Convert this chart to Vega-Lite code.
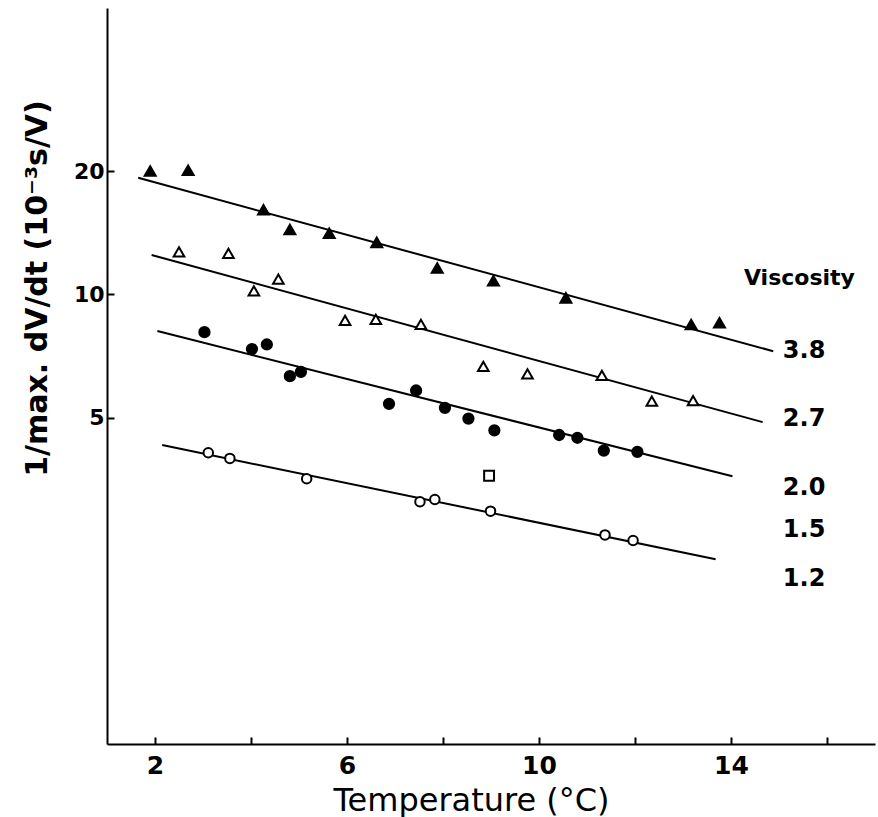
{
  "$schema": "https://vega.github.io/schema/vega-lite/v6.json",
  "width": 768,
  "height": 736,
  "autosize": {"type": "none"},
  "padding": {"left": 107, "top": 8, "right": 3, "bottom": 73},
  "background": "white",
  "config": {
    "view": {"stroke": null},
    "font": "DejaVu Sans",
    "axis": {
      "grid": false,
      "domainColor": "black",
      "domainWidth": 2,
      "tickColor": "black",
      "tickWidth": 2,
      "tickSize": -7,
      "labelColor": "black",
      "titleColor": "black",
      "labelFont": "DejaVu Sans",
      "titleFont": "DejaVu Sans"
    }
  },
  "datasets": {
    "points": [
      {"series": "3.8", "T": 1.9, "v": 20.0},
      {"series": "3.8", "T": 2.69, "v": 20.1},
      {"series": "3.8", "T": 4.26, "v": 16.1},
      {"series": "3.8", "T": 4.81, "v": 14.4},
      {"series": "3.8", "T": 5.63, "v": 14.1},
      {"series": "3.8", "T": 6.62, "v": 13.4},
      {"series": "3.8", "T": 7.88, "v": 11.6},
      {"series": "3.8", "T": 9.05, "v": 10.8},
      {"series": "3.8", "T": 10.56, "v": 9.81},
      {"series": "3.8", "T": 13.17, "v": 8.45},
      {"series": "3.8", "T": 13.76, "v": 8.53},
      {"series": "2.7", "T": 2.5, "v": 12.7},
      {"series": "2.7", "T": 3.53, "v": 12.6},
      {"series": "2.7", "T": 4.06, "v": 10.2},
      {"series": "2.7", "T": 4.57, "v": 10.9},
      {"series": "2.7", "T": 5.96, "v": 8.64},
      {"series": "2.7", "T": 6.6, "v": 8.69},
      {"series": "2.7", "T": 7.54, "v": 8.45},
      {"series": "2.7", "T": 8.84, "v": 6.68},
      {"series": "2.7", "T": 9.76, "v": 6.4},
      {"series": "2.7", "T": 11.31, "v": 6.35},
      {"series": "2.7", "T": 12.35, "v": 5.49},
      {"series": "2.7", "T": 13.21, "v": 5.51},
      {"series": "2.0", "T": 3.03, "v": 8.09},
      {"series": "2.0", "T": 4.02, "v": 7.36},
      {"series": "2.0", "T": 4.33, "v": 7.55},
      {"series": "2.0", "T": 4.81, "v": 6.32},
      {"series": "2.0", "T": 5.04, "v": 6.47},
      {"series": "2.0", "T": 6.875, "v": 5.41},
      {"series": "2.0", "T": 7.44, "v": 5.83},
      {"series": "2.0", "T": 8.04, "v": 5.29},
      {"series": "2.0", "T": 8.53, "v": 4.98},
      {"series": "2.0", "T": 9.07, "v": 4.66},
      {"series": "2.0", "T": 10.42, "v": 4.54},
      {"series": "2.0", "T": 10.8, "v": 4.47},
      {"series": "2.0", "T": 11.35, "v": 4.16},
      {"series": "2.0", "T": 12.05, "v": 4.13},
      {"series": "1.5", "T": 8.96, "v": 3.61},
      {"series": "1.2", "T": 3.11, "v": 4.11},
      {"series": "1.2", "T": 3.56, "v": 3.98},
      {"series": "1.2", "T": 5.16, "v": 3.55},
      {"series": "1.2", "T": 7.52, "v": 3.12},
      {"series": "1.2", "T": 7.83, "v": 3.16},
      {"series": "1.2", "T": 8.99, "v": 2.96},
      {"series": "1.2", "T": 11.375, "v": 2.59},
      {"series": "1.2", "T": 11.96, "v": 2.51}
    ],
    "fits": [
      {"series": "3.8", "T": 1.65, "v": 19.26},
      {"series": "3.8", "T": 14.88, "v": 7.27},
      {"series": "2.7", "T": 1.93, "v": 12.48},
      {"series": "2.7", "T": 14.66, "v": 4.88},
      {"series": "2.0", "T": 2.05, "v": 8.14},
      {"series": "2.0", "T": 14.03, "v": 3.6},
      {"series": "1.2", "T": 2.15, "v": 4.29},
      {"series": "1.2", "T": 13.68, "v": 2.26}
    ],
    "head": [
      {"label": "Viscosity", "T": 14.27, "v": 10.98}
    ],
    "labels": [
      {"label": "3.8", "T": 15.08, "v": 7.27},
      {"label": "2.7", "T": 15.08, "v": 4.96},
      {"label": "2.0", "T": 15.08, "v": 3.37},
      {"label": "1.5", "T": 15.08, "v": 2.66},
      {"label": "1.2", "T": 15.08, "v": 2.02}
    ]
  },
  "encoding": {
    "x": {
      "field": "T",
      "type": "quantitative",
      "scale": {"domain": [1, 17], "nice": false, "zero": false},
      "axis": {
        "values": [2, 4, 6, 8, 10, 12, 14, 16],
        "labelExpr": "datum.value % 4 == 2 ? datum.label : ''",
        "title": "Temperature (°C)",
        "labelFontSize": 25,
        "labelFontWeight": "bold",
        "labelPadding": 16,
        "titleFontSize": 32,
        "titleFontWeight": "normal",
        "titleX": 364,
        "titleY": 66,
        "titleAlign": "center",
        "titleBaseline": "alphabetic"
      }
    },
    "y": {
      "field": "v",
      "type": "quantitative",
      "scale": {"type": "log", "domain": [0.8, 50], "nice": false},
      "axis": {
        "values": [5, 10, 20],
        "title": "1/max. dV/dt (10⁻³s/V)",
        "labelFontSize": 22,
        "labelFontWeight": "bold",
        "labelPadding": 10,
        "titleFontSize": 30,
        "titleFontWeight": "bold",
        "titleAngle": 270,
        "titleX": -70,
        "titleY": 280,
        "titleAlign": "center",
        "titleBaseline": "middle"
      }
    }
  },
  "layer": [
    {
      "data": {"name": "fits"},
      "mark": {"type": "line", "color": "black", "strokeWidth": 2},
      "encoding": {"detail": {"field": "series"}}
    },
    {
      "data": {"name": "points"},
      "mark": {"type": "point", "filled": true, "stroke": "black", "strokeWidth": 2, "opacity": 1, "strokeOpacity": 1, "fillOpacity": 1},
      "encoding": {
        "shape": {"field": "series", "type": "nominal", "legend": null,
          "scale": {"domain": ["3.8", "2.7", "2.0", "1.5", "1.2"], "range": ["triangle-up", "triangle-up", "circle", "square", "circle"]}},
        "fill": {"field": "series", "type": "nominal", "legend": null,
          "scale": {"domain": ["3.8", "2.7", "2.0", "1.5", "1.2"], "range": ["black", "white", "black", "white", "white"]}},
        "size": {"field": "series", "type": "nominal", "legend": null,
          "scale": {"domain": ["3.8", "2.7", "2.0", "1.5", "1.2"], "range": [121, 90, 55, 40, 49]}}
      }
    },
    {
      "data": {"name": "head"},
      "mark": {"type": "text", "align": "left", "baseline": "middle", "color": "black", "font": "DejaVu Sans", "fontWeight": "bold", "fontSize": 22},
      "encoding": {"text": {"field": "label"}}
    },
    {
      "data": {"name": "labels"},
      "mark": {"type": "text", "align": "left", "baseline": "middle", "color": "black", "font": "DejaVu Sans", "fontWeight": "bold", "fontSize": 24},
      "encoding": {"text": {"field": "label"}}
    }
  ]
}
